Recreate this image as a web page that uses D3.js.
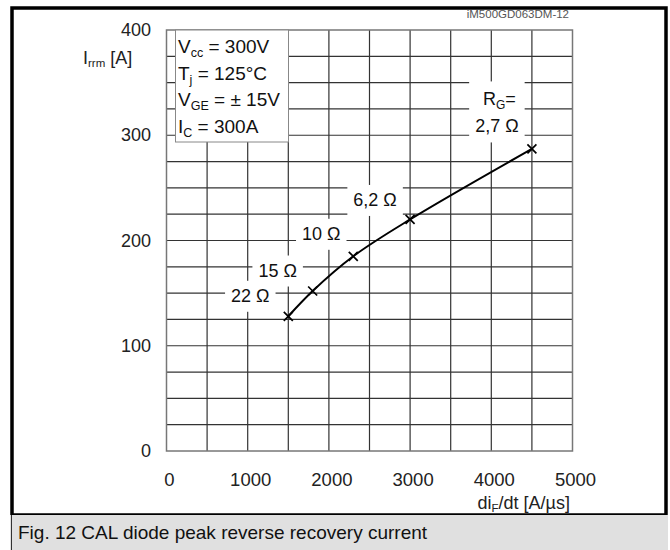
<!DOCTYPE html>
<html>
<head>
<meta charset="utf-8">
<script src="https://cdn.jsdelivr.net/npm/d3@7"></script>
<style>
  html, body { margin: 0; padding: 0; background: #fff; }
  svg { display: block; font-family: "Liberation Sans", Arial, sans-serif; }
</style>
</head>
<body>
<svg width="670" height="550"></svg>
<script>
// peak reverse recovery current vs. diF/dt for several gate resistors
var diF = [1500, 1800, 2300, 3000, 4500],
    irrm = [128, 152, 185, 220, 287],
    rgNames = ["22 Ω", "15 Ω", "10 Ω", "6,2 Ω", "2,7 Ω"];

var xTicks = [0, 1000, 2000, 3000, 4000, 5000],
    yTicks = [0, 100, 200, 300, 400];

var svg = d3.select("svg");

var x = d3.scaleLinear().domain([0, 5000]).range([166.5, 572.5]),
    y = d3.scaleLinear().domain([0, 400]).range([451, 30]);

// outer frame + caption band
svg.append("rect")
    .attr("x", 12).attr("y", 8).attr("width", 654).attr("height", 507)
    .attr("fill", "none").attr("stroke", "#000").attr("stroke-width", 3.5);

svg.append("rect")
    .attr("x", 10).attr("y", 515).attr("width", 658).attr("height", 35)
    .attr("fill", "#e0e0e0");
svg.append("line")
    .attr("x1", 11.5).attr("x2", 11.5).attr("y1", 515).attr("y2", 550)
    .attr("stroke", "#333").attr("stroke-width", 1);

svg.append("text")
    .attr("x", 18).attr("y", 539)
    .attr("font-size", 19).attr("fill", "#111")
    .text("Fig. 12 CAL diode peak reverse recovery current");

// grid, every 500 A/µs and 25 A
var grid = svg.append("g");
grid.selectAll(".vx").data(d3.range(500, 5000, 500)).enter().append("line")
    .attr("x1", x).attr("x2", x)
    .attr("y1", y(0)).attr("y2", y(400))
    .attr("stroke", "#333").attr("stroke-width", 1.2);
grid.selectAll(".hy").data(d3.range(25, 400, 25)).enter().append("line")
    .attr("x1", x(0)).attr("x2", x(5000))
    .attr("y1", y).attr("y2", y)
    .attr("stroke", "#333").attr("stroke-width", 1.2);
grid.append("rect")
    .attr("x", x(0)).attr("y", y(400))
    .attr("width", x(5000) - x(0)).attr("height", y(0) - y(400))
    .attr("fill", "none").attr("stroke", "#777").attr("stroke-width", 1.5);

// tick labels
svg.selectAll(".ytl").data(yTicks).enter().append("text")
    .attr("x", 151).attr("y", function(d) { return y(d) + 6; })
    .attr("text-anchor", "end").attr("font-size", 18).attr("fill", "#222")
    .text(function(d) { return d; });

svg.selectAll(".xtl").data(xTicks).enter().append("text")
    .attr("x", function(d) { return x(d) + 3; }).attr("y", 486)
    .attr("text-anchor", "middle").attr("font-size", 18.5).attr("fill", "#222")
    .text(function(d) { return d; });

// axis titles
var yl = svg.append("text").attr("x", 83).attr("y", 64)
    .attr("font-size", 18).attr("fill", "#222");
yl.append("tspan").text("I");
yl.append("tspan").attr("font-size", 11.5).attr("dy", 3).text("rrm");
yl.append("tspan").attr("dy", -3).text(" [A]");

var xl = svg.append("text").attr("x", 570).attr("y", 509)
    .attr("text-anchor", "end").attr("font-size", 18).attr("fill", "#222");
xl.append("tspan").text("di");
xl.append("tspan").attr("font-size", 11.5).attr("dy", 3).text("F");
xl.append("tspan").attr("dy", -3).text("/dt [A/µs]");

svg.append("text")
    .attr("x", 569).attr("y", 18).attr("text-anchor", "end")
    .attr("font-size", 11.5).attr("fill", "#555")
    .text("iM500GD063DM-12");

// conditions box
svg.append("rect")
    .attr("x", 175.5).attr("y", 30).attr("width", 113).attr("height", 112)
    .attr("fill", "#fff").attr("stroke", "#888").attr("stroke-width", 1);

var cond = [
  ["V", "cc", " = 300V"],
  ["T", "j", " = 125°C"],
  ["V", "GE", " = ± 15V"],
  ["I", "C", " = 300A"]
];
cond.forEach(function(c, i) {
  var t = svg.append("text").attr("x", 178).attr("y", 53 + i * 26.5)
      .attr("font-size", 19).attr("fill", "#111");
  t.append("tspan").text(c[0]);
  t.append("tspan").attr("font-size", 12.5).attr("dy", 4).text(c[1]);
  t.append("tspan").attr("dy", -4).text(c[2]);
});

// resistor labels, white patches cut the grid behind them
var labelOff = [[-38, -21], [-35, -21], [-32, -23], [-35, -20], [-35, -23]];
var labels = svg.append("g");
rgNames.forEach(function(name, i) {
  var cx = x(diF[i]) + labelOff[i][0],
      cy = y(irrm[i]) + labelOff[i][1];
  var bg = labels.append("rect").attr("fill", "#fff");
  var t = labels.append("text")
      .attr("x", cx).attr("y", cy + 6.5)
      .attr("text-anchor", "middle").attr("font-size", 18).attr("fill", "#111")
      .text(name);
  var bb = t.node().getBBox(), top = bb.y - 5;
  if (i === 4) top -= 30;
  bg.attr("x", bb.x - 6).attr("y", top)
    .attr("width", bb.width + 12).attr("height", bb.y + bb.height + 6 - top);
});

var rg = labels.append("text")
    .attr("x", x(diF[4]) - 49).attr("y", y(irrm[4]) - 44)
    .attr("font-size", 18).attr("fill", "#111");
rg.append("tspan").text("R");
rg.append("tspan").attr("font-size", 12).attr("dy", 4).text("G");
rg.append("tspan").attr("dy", -4).text("=");

// curve and markers
var pts = diF.map(function(d, i) { return [d, irrm[i]]; });
var line = d3.line()
    .x(function(d) { return x(d[0]); })
    .y(function(d) { return y(d[1]); })
    .curve(d3.curveCatmullRom);

svg.append("path").datum(pts)
    .attr("d", line)
    .attr("fill", "none").attr("stroke", "#000").attr("stroke-width", 2);

var s = 4.5;
svg.selectAll(".mk").data(pts).enter().append("path")
    .attr("d", function(d) {
      var px = x(d[0]), py = y(d[1]);
      return "M" + (px - s) + "," + (py - s) + "L" + (px + s) + "," + (py + s) +
             "M" + (px - s) + "," + (py + s) + "L" + (px + s) + "," + (py - s);
    })
    .attr("stroke", "#000").attr("stroke-width", 1.7);
</script>
</body>
</html>
